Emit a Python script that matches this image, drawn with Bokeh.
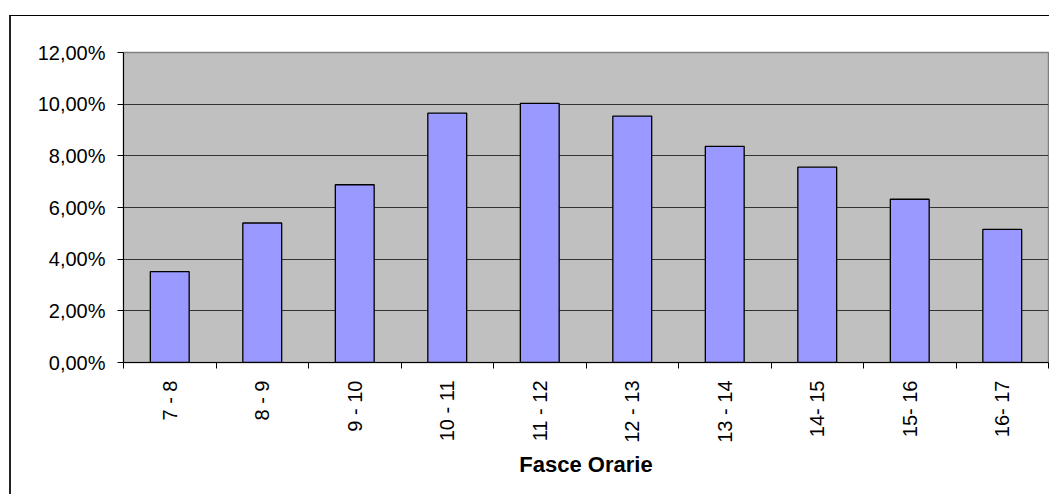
import math
from bokeh.plotting import figure
from bokeh.models import Range1d, FixedTicker, ColumnDataSource
from bokeh.embed import file_html
from bokeh.resources import INLINE

categories = ["7 - 8", "8 - 9", "9 - 10", "10 - 11", "11 - 12",
              "12 - 13", "13 - 14", "14- 15", "15- 16", "16- 17"]
values = [0.0352, 0.0540, 0.0688, 0.0965, 0.1003,
          0.0954, 0.0837, 0.0756, 0.0632, 0.0515]
y_ticks = [0.0, 0.02, 0.04, 0.06, 0.08, 0.10, 0.12]
y_labels = ["0,00%", "2,00%", "4,00%", "6,00%", "8,00%", "10,00%", "12,00%"]
x_title = "Fasce Orarie"

xpos = [i + 0.5 for i in range(len(categories))]
src = ColumnDataSource(dict(x=xpos, v=values, cat=categories))

FONT = "Liberation Sans"

p = figure(width=1040, height=479, output_backend="svg", toolbar_location=None,
           x_range=Range1d(0, len(categories)), y_range=Range1d(y_ticks[0], y_ticks[-1]),
           min_border_left=112, min_border_right=3, min_border_top=36, min_border_bottom=133,
           background_fill_color="#C0C0C0", border_fill_color="white",
           margin=(15, 0, 0, 9),
           styles={"border-top": "1px solid black", "border-left": "2px solid #222222"})

p.vbar(x="x", top="v", width=0.42, source=src, fill_color="#9999FF",
       line_color="black", line_width=1.3)

# x axis
xa = p.xaxis[0]
xa.ticker = FixedTicker(ticks=xpos, minor_ticks=list(range(len(categories) + 1)))
xa.major_label_overrides = {xv: c for xv, c in zip(xpos, categories)}
xa.major_tick_out = 0
xa.major_tick_in = 0
xa.minor_tick_out = 6
xa.minor_tick_in = 0
xa.minor_tick_line_color = "black"
xa.axis_line_color = "black"
xa.major_label_orientation = math.pi / 2
xa.major_label_standoff = 12
xa.major_label_text_font = FONT
xa.major_label_text_font_size = "20px"
xa.major_label_text_color = "black"
xa.axis_label = x_title
xa.axis_label_text_font = FONT
xa.axis_label_text_font_size = "22px"
xa.axis_label_text_font_style = "bold"
xa.axis_label_text_color = "black"
xa.axis_label_standoff = 6

# y axis
ya = p.yaxis[0]
ya.ticker = FixedTicker(ticks=y_ticks)
ya.major_label_overrides = {t: l for t, l in zip(y_ticks, y_labels)}
ya.major_tick_out = 6
ya.major_tick_in = 0
ya.minor_tick_line_color = None
ya.major_tick_line_color = "black"
ya.axis_line_color = "black"
ya.major_label_standoff = 12
ya.major_label_text_font = FONT
ya.major_label_text_font_size = "20px"
ya.major_label_text_color = "black"

p.xgrid.visible = False
p.ygrid.ticker = FixedTicker(ticks=y_ticks[1:-1])
p.ygrid.grid_line_color = "#333333"
p.ygrid.grid_line_width = 1

p.outline_line_color = "#808080"
p.outline_line_width = 1.5

open("out.html", "w").write(file_html(p, INLINE))
